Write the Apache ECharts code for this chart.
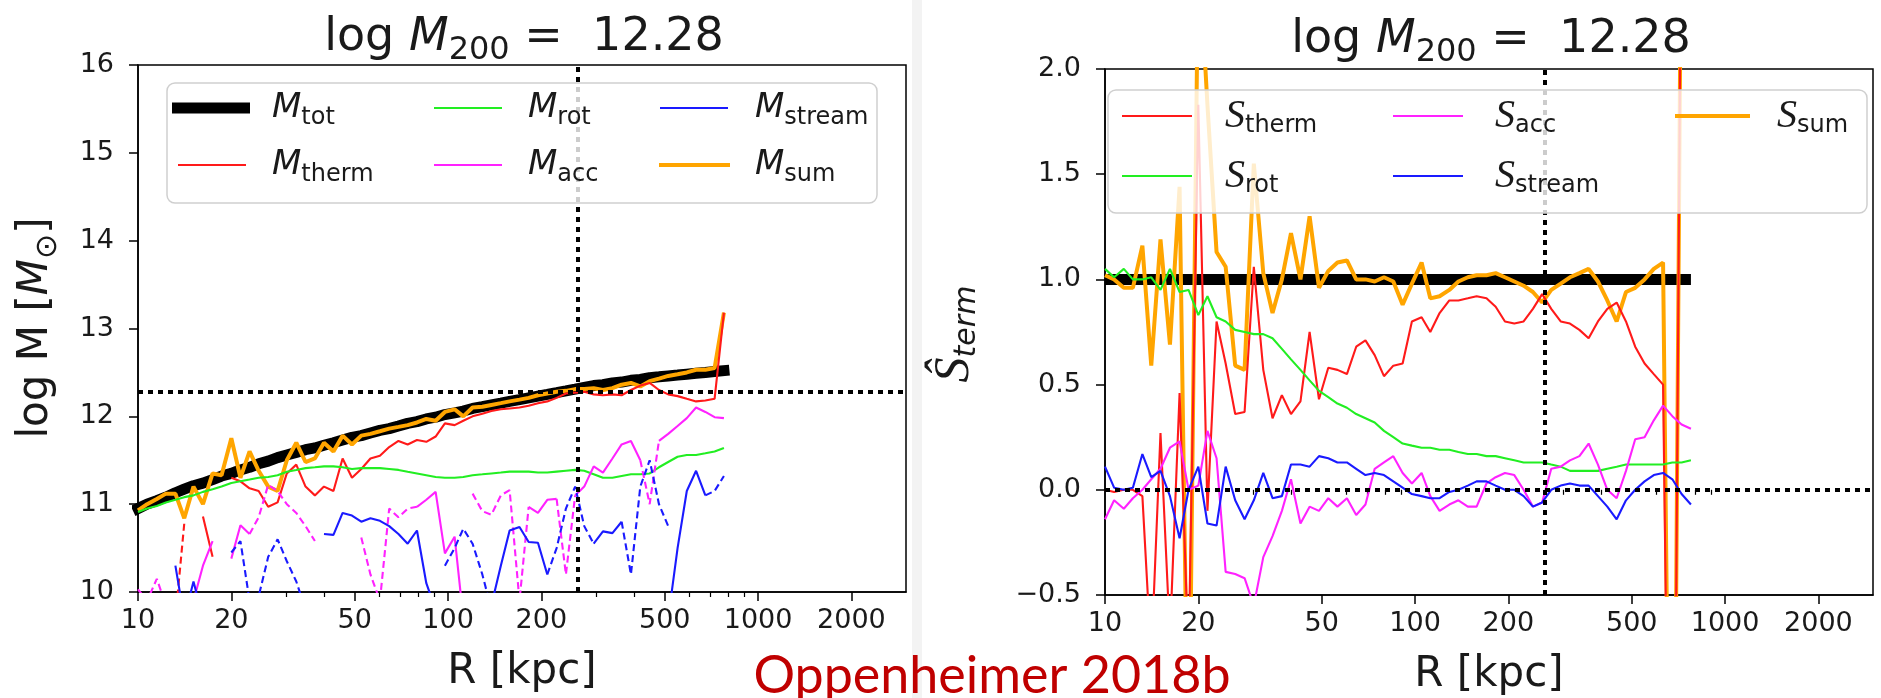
<!DOCTYPE html>
<html>
<head>
<meta charset="utf-8">
<script src="https://cdn.jsdelivr.net/npm/echarts@6/dist/echarts.min.js"></script>
<style>
  html, body { margin: 0; padding: 0; background: #ffffff; }
  #chart { width: 1881px; height: 698px; }
</style>
</head>
<body>
<div id="chart"></div>
<script>
// Radial bins (kpc), shared by every profile in both panels
const radiusKpc = [10.0, 10.7, 11.5, 12.3, 13.2, 14.1, 15.1, 16.2, 17.4, 18.6,
  20.0, 21.4, 22.9, 24.5, 26.3, 28.2, 30.2, 32.4, 34.7, 37.2,
  39.8, 42.7, 45.7, 49.0, 52.5, 56.2, 60.3, 64.6, 69.2, 74.1,
  79.4, 85.1, 91.2, 97.7, 105, 112, 120, 129, 138, 148,
  158, 170, 182, 195, 209, 224, 240, 257, 275, 295,
  316, 339, 363, 389, 417, 447, 479, 513, 550, 589,
  631, 676, 724, 776];

const r200 = 262;          // virial radius, kpc
const logM200 = 12.28;     // halo mass
const xTickValues = [10, 20, 50, 100, 200, 500, 1000, 2000];
const xMinorTickValues = [30, 40, 60, 70, 80, 90, 300, 400, 600, 700, 800, 900];

// ---- Left panel: log mass profiles (solid = positive term, dashed = negative term, |M|) ----
const logMTot = [10.95, 11.00, 11.04, 11.08, 11.13, 11.17, 11.21, 11.24, 11.28, 11.32,
  11.35, 11.39, 11.42, 11.46, 11.49, 11.53, 11.56, 11.59, 11.62, 11.64,
  11.67, 11.70, 11.73, 11.76, 11.78, 11.81, 11.84, 11.86, 11.89, 11.92,
  11.94, 11.97, 11.99, 12.02, 12.04, 12.06, 12.09, 12.11, 12.13, 12.15,
  12.17, 12.19, 12.21, 12.23, 12.25, 12.27, 12.29, 12.31, 12.33, 12.35,
  12.36, 12.38, 12.39, 12.41, 12.42, 12.44, 12.45, 12.46, 12.47, 12.48,
  12.49, 12.50, 12.51, 12.52];

const logMSum = [10.93, 11.00, 11.06, 11.12, 11.12, 10.84, 11.20, 11.00, 11.35, 11.33,
  11.75, 11.30, 11.60, 11.38, 11.20, 11.15, 11.50, 11.70, 11.48, 11.52,
  11.70, 11.60, 11.78, 11.68, 11.78, 11.80, 11.83, 11.86, 11.88, 11.90,
  11.93, 11.97, 11.95, 12.05, 12.08, 12.00, 12.10, 12.11, 12.13, 12.15,
  12.17, 12.19, 12.21, 12.24, 12.26, 12.28, 12.29, 12.31, 12.31, 12.32,
  12.30, 12.32, 12.36, 12.38, 12.34, 12.40, 12.43, 12.46, 12.48, 12.50,
  12.53, 12.53, 12.55, 13.18];

const logMThermPos = [null, null, null, null, null, null, null, 10.86, 10.40, null,
  11.30, 11.26, 11.18, 11.15, 10.97, 11.02, 11.35, 11.45, 11.20, 11.10,
  11.20, 11.15, 11.52, 11.30, 11.40, 11.52, 11.55, 11.65, 11.72, 11.68,
  11.73, 11.71, 11.77, 11.92, 11.90, 11.95, 12.00, 12.03, 12.06, 12.08,
  12.09, 12.10, 12.12, 12.15, 12.17, 12.21, 12.26, 12.27, 12.28, 12.25,
  12.24, 12.25, 12.24, 12.30, 12.35, 12.38, 12.30, 12.25, 12.23, 12.20,
  12.17, 12.18, 12.20, 13.18];

const logMThermNeg = [null, null, null, null, 9.70, 10.78, null, null, null, null,
  null, null, null, null, null, null, null, null, null, null,
  null, null, null, null, null, null, null, null, null, null,
  null, null, null, null, null, null, null, null, null, null,
  null, null, null, null, null, null, null, null, null, null,
  null, null, null, null, null, null, null, null, null, null,
  null, null, null, null];

const logMRot = [10.91, 10.95, 10.98, 11.02, 11.05, 11.08, 11.10, 11.14, 11.17, 11.20,
  11.24, 11.26, 11.28, 11.30, 11.31, 11.33, 11.37, 11.39, 11.41, 11.42,
  11.43, 11.43, 11.42, 11.40, 11.41, 11.41, 11.41, 11.40, 11.39, 11.37,
  11.35, 11.33, 11.31, 11.30, 11.30, 11.31, 11.33, 11.34, 11.35, 11.36,
  11.37, 11.37, 11.37, 11.36, 11.36, 11.37, 11.38, 11.39, 11.38, 11.34,
  11.30, 11.30, 11.32, 11.34, 11.34, 11.35, 11.42, 11.48, 11.54, 11.56,
  11.56, 11.58, 11.60, 11.64];

const logMAccPos = [null, null, null, null, null, null, 9.90, 10.30, 10.58, null,
  10.38, 10.76, 10.66, null, null, null, null, null, null, null,
  null, null, null, null, null, null, null, null, null, null,
  10.97, 11.05, 11.14, 10.44, 10.63, 9.70, null, null, null, null,
  null, null, 10.97, 10.90, 11.05, 11.06, null, 11.10, 11.20, 11.43,
  11.36, 11.52, 11.68, 11.72, 11.50, null, 11.72, 11.80, 11.89, 11.98,
  12.10, 12.05, 11.99, 11.98];

const logMAccNeg = [10.03, 9.90, 10.15, 9.85, null, null, null, null, null, null,
  null, null, 10.66, 10.85, 11.22, 11.15, 11.00, 10.90, 10.75, 10.58,
  null, null, null, null, 10.62, 10.20, 9.90, 10.95, 10.85, 10.95,
  10.97, null, null, null, null, null, 11.12, 10.92, 10.88, 11.10,
  11.16, 9.90, 10.97, null, null, 11.06, 10.20, 11.10, null, null,
  null, null, null, null, 11.50, 11.00, 11.72, null, null, null,
  null, null, null, null];

const logMStreamPos = [null, null, null, null, 10.30, 9.70, 10.12, 9.70, null, null,
  null, null, null, null, null, null, null, null, null, null,
  10.66, 10.65, 10.90, 10.87, 10.80, 10.84, 10.81, 10.75, 10.66, 10.55,
  10.70, 10.10, 9.80, null, null, null, null, null, 9.85, 10.30,
  10.70, 10.74, 10.57, 10.56, 10.20, null, null, null, null, 10.55,
  10.69, 10.67, 10.80, null, null, null, null, 9.70, 10.50, 11.15,
  11.38, 11.10, null, null];

const logMStreamNeg = [null, null, null, null, null, null, null, null, null, null,
  10.45, 10.58, 9.90, 9.95, 10.40, 10.60, 10.35, 10.12, 9.80, null,
  null, null, null, null, null, null, null, null, null, null,
  null, null, null, 10.30, 10.50, 10.72, 10.55, 10.20, 9.80, null,
  null, null, null, null, 10.20, 10.50, 10.95, 11.20, 10.75, 10.55,
  null, null, 10.80, 10.20, 11.20, 11.50, 11.00, 10.75, null, null,
  null, 11.10, 11.15, 11.32];

// ---- Right panel: normalised support terms ----
const sTot = [1.0, 1.0, 1.0, 1.0, 1.0, 1.0, 1.0, 1.0, 1.0, 1.0,
  1.0, 1.0, 1.0, 1.0, 1.0, 1.0, 1.0, 1.0, 1.0, 1.0,
  1.0, 1.0, 1.0, 1.0, 1.0, 1.0, 1.0, 1.0, 1.0, 1.0,
  1.0, 1.0, 1.0, 1.0, 1.0, 1.0, 1.0, 1.0, 1.0, 1.0,
  1.0, 1.0, 1.0, 1.0, 1.0, 1.0, 1.0, 1.0, 1.0, 1.0,
  1.0, 1.0, 1.0, 1.0, 1.0, 1.0, 1.0, 1.0, 1.0, 1.0,
  1.0, 1.0, 1.0, 1.0];

const sSum = [1.02, 1.00, 0.96, 0.96, 1.16, 0.59, 1.19, 0.69, 1.44, -1.50,
  2.60, 1.83, 1.13, 1.06, 0.59, 0.57, 1.55, 1.03, 0.84, 1.00,
  1.22, 1.00, 1.30, 0.96, 1.04, 1.08, 1.09, 1.00, 1.00, 0.99,
  1.01, 0.99, 0.88, 0.98, 1.08, 0.91, 0.92, 0.95, 0.99, 1.01,
  1.02, 1.02, 1.03, 1.01, 0.99, 0.97, 0.94, 0.89, 0.95, 0.98,
  1.01, 1.03, 1.05, 0.99, 0.90, 0.80, 0.94, 0.96, 1.00, 1.05,
  1.08, -3.00, 3.00, null];

const sTherm = [0.00, -0.01, 0.00, 0.00, -0.03, -0.80, 0.27, -0.70, 0.46, -0.80,
  1.83, -0.10, 0.80, 0.60, 0.36, 0.37, 1.06, 0.57, 0.34, 0.45,
  0.36, 0.42, 0.75, 0.43, 0.58, 0.57, 0.55, 0.68, 0.71, 0.64,
  0.54, 0.59, 0.60, 0.80, 0.82, 0.75, 0.84, 0.90, 0.90, 0.91,
  0.92, 0.91, 0.87, 0.80, 0.79, 0.80, 0.86, 0.93, 0.86, 0.80,
  0.79, 0.76, 0.72, 0.80, 0.86, 0.89, 0.80, 0.68, 0.60, 0.55,
  0.50, -3.00, 3.00, null];

const sRot = [1.05, 1.01, 1.05, 1.00, 1.00, 1.01, 0.95, 1.05, 0.94, 0.95,
  0.83, 0.92, 0.82, 0.80, 0.76, 0.75, 0.74, 0.74, 0.72, 0.67,
  0.62, 0.57, 0.52, 0.47, 0.44, 0.41, 0.39, 0.36, 0.34, 0.32,
  0.28, 0.25, 0.22, 0.21, 0.20, 0.20, 0.19, 0.19, 0.18, 0.17,
  0.17, 0.16, 0.16, 0.15, 0.14, 0.13, 0.13, 0.13, 0.12, 0.11,
  0.09, 0.09, 0.09, 0.09, 0.10, 0.11, 0.12, 0.12, 0.12, 0.12,
  0.12, 0.13, 0.13, 0.14];

const sAcc = [-0.14, -0.05, -0.09, -0.04, 0.00, 0.05, 0.10, 0.20, 0.23, 0.00,
  0.02, 0.28, 0.15, -0.39, -0.40, -0.42, -0.55, -0.32, -0.22, -0.10,
  0.05, -0.16, -0.08, -0.10, -0.04, -0.08, -0.04, -0.12, -0.07, 0.10,
  0.13, 0.16, 0.08, 0.03, 0.08, -0.03, -0.10, -0.07, -0.05, -0.08,
  -0.08, 0.03, 0.06, 0.08, 0.07, 0.00, -0.08, -0.06, 0.10, 0.11,
  0.14, 0.16, 0.22, 0.12, 0.00, -0.04, 0.09, 0.24, 0.25, 0.33,
  0.40, 0.35, 0.31, 0.29];

const sStream = [0.11, 0.01, 0.00, 0.01, 0.17, 0.06, 0.09, -0.03, -0.23, 0.00,
  0.11, -0.16, -0.17, 0.11, -0.05, -0.14, -0.05, 0.08, -0.04, -0.03,
  0.12, 0.12, 0.11, 0.16, 0.15, 0.13, 0.13, 0.10, 0.07, 0.08,
  0.07, 0.04, 0.01, -0.02, -0.03, -0.04, -0.04, -0.01, 0.00, 0.02,
  0.04, 0.04, 0.02, 0.00, 0.00, -0.03, -0.08, -0.06, 0.00, 0.02,
  0.03, 0.02, 0.02, -0.03, -0.08, -0.14, -0.05, 0.00, 0.04, 0.07,
  0.08, 0.05, -0.02, -0.07];

// ---------------------------------------------------------------------------
const FONT = 'DejaVu Sans';
const SERIF = 'Liberation Serif';
const TEXT = '#1a1a1a';
const C = { black: '#000000', red: '#ff1a1a', green: '#22ee22', magenta: '#ff22ff', blue: '#1a1aff', orange: '#ffa500' };
const THIN = 2.1;
const SUM_W = 4;
const DASH = [7, 4];
const DOTS = [5, 5];

const pairs = vals => radiusKpc.map((r, i) => [r, vals[i] == null ? '-' : vals[i]]);

function line(name, vals, color, width, panel, extra) {
  return Object.assign({
    type: 'line', name: name, data: pairs(vals),
    xAxisIndex: panel * 2, yAxisIndex: panel,
    symbol: 'none', showSymbol: false, silent: true, animation: false,
    clip: true, connectNulls: false,
    lineStyle: { color: color, width: width, type: 'solid' },
    itemStyle: { color: color },
    emphasis: { disabled: true }
  }, extra || {});
}

function dashed(name, vals, color, panel) {
  return line(name, vals, color, THIN, panel, { lineStyle: { color: color, width: THIN, type: DASH } });
}

function refLines(panel, xVal, yVal) {
  return {
    type: 'line', name: 'ref' + panel, data: [], xAxisIndex: panel * 2, yAxisIndex: panel,
    silent: true, animation: false, z: 3,
    markLine: {
      symbol: ['none', 'none'], silent: true, animation: false, label: { show: false },
      emphasis: { disabled: true },
      lineStyle: { color: '#000', width: 4, type: DOTS },
      data: [{ xAxis: xVal }, { yAxis: yVal }]
    }
  };
}

const grids = [
  { left: 138, top: 65, width: 768, height: 527 },
  { left: 1105, top: 69, width: 768, height: 526 }
];

function xAxes(gridIndex) {
  return [{
    type: 'log', logBase: 10, min: 10, max: 3000, gridIndex: gridIndex, position: 'bottom',
    axisLine: { show: true, onZero: false, lineStyle: { color: '#000', width: 1.5 } },
    axisTick: { show: true, length: 9, customValues: xTickValues, lineStyle: { color: '#000', width: 1.5 } },
    axisLabel: { show: true, customValues: xTickValues, margin: 15, color: TEXT, fontFamily: FONT, fontSize: 27,
                 formatter: v => String(Math.round(v)) },
    splitLine: { show: false }, minorTick: { show: false }
  }, {
    type: 'log', logBase: 10, min: 10, max: 3000, gridIndex: gridIndex, position: 'bottom',
    axisLine: { show: false },
    axisTick: { show: true, length: 5, customValues: xMinorTickValues, lineStyle: { color: '#000', width: 1.2 } },
    axisLabel: { show: false }, splitLine: { show: false }
  }];
}

function yAxis(gridIndex, min, max, interval, fmt) {
  return {
    type: 'value', gridIndex: gridIndex, min: min, max: max, interval: interval,
    axisLine: { show: true, onZero: false, lineStyle: { color: '#000', width: 1.5 } },
    axisTick: { show: true, length: 9, lineStyle: { color: '#000', width: 1.5 } },
    axisLabel: { margin: 24, color: TEXT, fontFamily: FONT, fontSize: 27, formatter: fmt },
    splitLine: { show: false }
  };
}

// Legend entries: one small legend per slot so the column-major layout is kept
const massRich = {
  m: { fontFamily: FONT, fontStyle: 'italic', fontSize: 34, lineHeight: 44, color: TEXT },
  s: { fontFamily: FONT, fontSize: 24, lineHeight: 24, verticalAlign: 'bottom', color: TEXT }
};
const supportRich = {
  m: { fontFamily: SERIF, fontStyle: 'italic', fontSize: 40, lineHeight: 44, color: TEXT },
  s: { fontFamily: FONT, fontSize: 24, lineHeight: 24, verticalAlign: 'bottom', color: TEXT }
};
const splitName = n => { const p = n.split('_'); return '{m|' + p[0] + '}{s|' + p[1] + '}'; };

// handle: rectangle as thick as the line it stands for; text starts at textX
function legendSlot(name, x, rowY, w, h, textX, rich) {
  return {
    data: [name], left: x, top: rowY - 22, orient: 'horizontal', padding: 0, itemGap: 0,
    icon: 'rect', itemWidth: w, itemHeight: h, selectedMode: false, z: 60,
    formatter: splitName,
    textStyle: { padding: [0, 0, 0, textX - (x + w + 5)], rich: rich }
  };
}

const legends = [
  legendSlot('M_tot', 172, 113, 78, 11, 272, massRich),
  legendSlot('M_therm', 178, 170, 68, 2, 272, massRich),
  legendSlot('M_rot', 434, 113, 68, 2, 528, massRich),
  legendSlot('M_acc', 434, 170, 68, 2, 528, massRich),
  legendSlot('M_stream', 660, 113, 68, 2, 755, massRich),
  legendSlot('M_sum', 659, 170, 71, 4, 755, massRich),
  legendSlot('S_therm', 1122, 118, 70, 2, 1225, supportRich),
  legendSlot('S_rot', 1122, 178, 70, 2, 1225, supportRich),
  legendSlot('S_acc', 1393, 118, 70, 2, 1495, supportRich),
  legendSlot('S_stream', 1393, 178, 70, 2, 1495, supportRich),
  legendSlot('S_sum', 1675, 118, 75, 4, 1777, supportRich)
];

const series = [
  // left panel
  line('M_tot', logMTot, C.black, 11, 0, { lineStyle: { color: C.black, width: 11, cap: 'square' } }),
  line('M_sum', logMSum, C.orange, SUM_W, 0),
  line('M_therm', logMThermPos, C.red, THIN, 0),
  dashed('M_therm neg', logMThermNeg, C.red, 0),
  line('M_rot', logMRot, C.green, THIN, 0),
  line('M_acc', logMAccPos, C.magenta, THIN, 0),
  dashed('M_acc neg', logMAccNeg, C.magenta, 0),
  line('M_stream', logMStreamPos, C.blue, THIN, 0),
  dashed('M_stream neg', logMStreamNeg, C.blue, 0),
  refLines(0, r200, logM200),
  // right panel
  line('S_tot', sTot, C.black, 11, 1),
  line('S_sum', sSum, C.orange, SUM_W, 1),
  line('S_therm', sTherm, C.red, THIN, 1),
  line('S_rot', sRot, C.green, THIN, 1),
  line('S_acc', sAcc, C.magenta, THIN, 1),
  line('S_stream', sStream, C.blue, THIN, 1),
  refLines(1, r200, 0)
];

const titleRich = {
  a: { fontFamily: FONT, fontSize: 46, lineHeight: 58, fill: TEXT },
  m: { fontFamily: FONT, fontStyle: 'italic', fontSize: 46, lineHeight: 58, fill: TEXT },
  s: { fontFamily: FONT, fontSize: 32, lineHeight: 32, verticalAlign: 'bottom', fill: TEXT }
};
const labelRich = {
  a: { fontFamily: FONT, fontSize: 42, lineHeight: 54, fill: TEXT },
  m: { fontFamily: FONT, fontStyle: 'italic', fontSize: 42, lineHeight: 54, fill: TEXT },
  s: { fontFamily: FONT, fontSize: 30, lineHeight: 30, verticalAlign: 'bottom', fill: TEXT },
  h: { fontFamily: SERIF, fontStyle: 'italic', fontSize: 50, lineHeight: 54, fill: TEXT },
  t: { fontFamily: FONT, fontStyle: 'italic', fontSize: 30, lineHeight: 30, verticalAlign: 'bottom', fill: TEXT }
};

const graphics = [
  // thin seam between the two figures
  { type: 'rect', shape: { x: 912, y: 0, width: 10, height: 698 }, style: { fill: '#f3f3f3' }, z: 0, silent: true },
  // legend frames
  { type: 'rect', shape: { x: 167, y: 83, width: 710, height: 120, r: 8 },
    style: { fill: 'rgba(255,255,255,0.8)', stroke: '#cfcfcf', lineWidth: 1.5 }, z: 50, silent: true },
  { type: 'rect', shape: { x: 1108, y: 90, width: 759, height: 123, r: 8 },
    style: { fill: 'rgba(255,255,255,0.8)', stroke: '#cfcfcf', lineWidth: 1.5 }, z: 50, silent: true },
  // titles
  { type: 'text', x: 524, y: 9, silent: true, z: 70,
    style: { text: '{a|log }{m|M}{s|200}{a| =  12.28}', align: 'center', verticalAlign: 'top', rich: titleRich } },
  { type: 'text', x: 1491, y: 11, silent: true, z: 70,
    style: { text: '{a|log }{m|M}{s|200}{a| =  12.28}', align: 'center', verticalAlign: 'top', rich: titleRich } },
  // x-axis names
  { type: 'text', x: 522, y: 645, silent: true, z: 70,
    style: { text: '{a|R [kpc]}', align: 'center', verticalAlign: 'top', rich: labelRich } },
  { type: 'text', x: 1489, y: 648, silent: true, z: 70,
    style: { text: '{a|R [kpc]}', align: 'center', verticalAlign: 'top', rich: labelRich } },
  // y-axis names
  { type: 'text', x: 36, y: 328, rotation: Math.PI / 2, silent: true, z: 70,
    style: { text: '{a|log M [}{m|M}{s|\u2299}{a|]}', align: 'center', verticalAlign: 'middle', rich: labelRich } },
  { type: 'text', x: 955, y: 334, rotation: Math.PI / 2, silent: true, z: 70,
    style: { text: '{h|\u015C}{t|term}', align: 'center', verticalAlign: 'middle', rich: labelRich } },
  // credit line
  { type: 'text', x: 992, y: 676, silent: true, z: 70,
    style: { text: 'Oppenheimer 2018b', fill: '#c00000', fontFamily: 'Lato', fontSize: 52,
             align: 'center', verticalAlign: 'middle' } }
];

const option = {
  backgroundColor: '#ffffff',
  animation: false,
  textStyle: { fontFamily: FONT },
  grid: grids.map(g => Object.assign({ show: true, borderColor: '#000', borderWidth: 1.5,
                                       backgroundColor: 'transparent', containLabel: false }, g)),
  xAxis: xAxes(0).concat(xAxes(1)),
  yAxis: [
    yAxis(0, 10, 16, 1, v => String(Math.round(v))),
    yAxis(1, -0.5, 2.0, 0.5, v => v.toFixed(1).replace('-', '\u2212'))
  ],
  legend: legends,
  tooltip: { show: false },
  series: series,
  graphic: graphics
};

const chart = echarts.init(document.getElementById('chart'), null, { renderer: 'canvas' });
chart.setOption(option);
</script>
</body>
</html>
